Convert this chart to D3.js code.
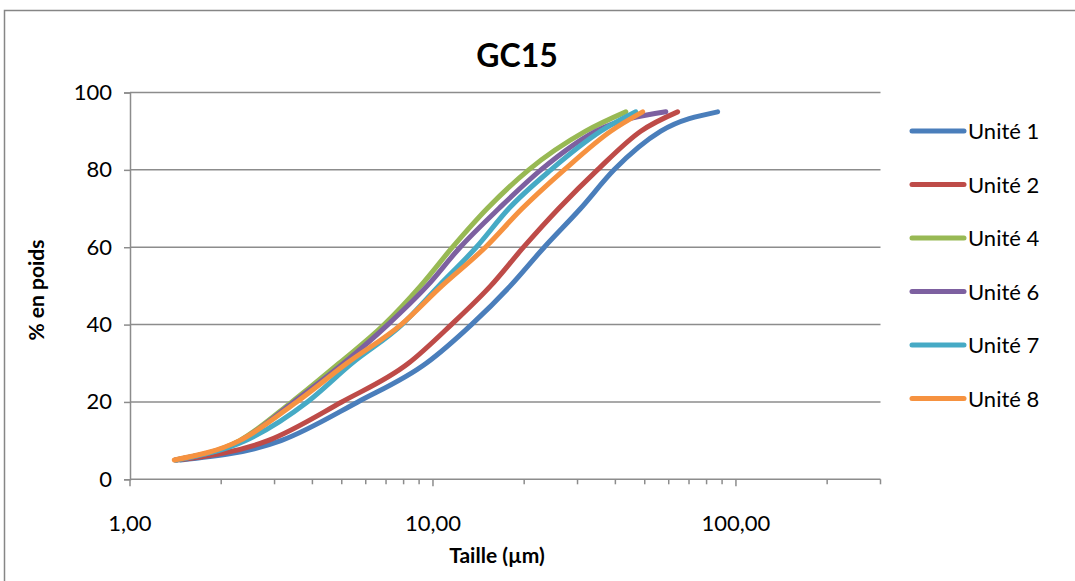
<!DOCTYPE html>
<html><head><meta charset="utf-8">
<script src="https://cdn.jsdelivr.net/npm/d3@7"></script>
<style>body{margin:0;background:#fff}svg{display:block}text{font-family:Lato,"Open Sans",sans-serif;fill:#000}</style>
</head><body>
<script>
const percents = [5,10,20,30,40,50,60,70,80,90,95];
const seriesNames = ["Unité 1","Unité 2","Unité 4","Unité 6","Unité 7","Unité 8"];
const unite1 = [1.47, 3.15, 5.65, 9.5, 13.4, 18.0, 23.3, 30.7, 39.6, 56.5, 87.0];
const unite2 = [1.43, 2.85, 5.0, 8.3, 11.5, 15.5, 19.9, 26.0, 34.9, 48.5, 64.2];
const unite4 = [1.41, 2.3, 3.42, 4.9, 6.9, 9.1, 11.6, 15.1, 20.7, 31.9, 43.3];
const unite6 = [1.41, 2.32, 3.47, 5.07, 7.1, 9.57, 12.3, 16.5, 22.7, 34.5, 58.7];
const unite7 = [1.42, 2.4, 3.85, 5.4, 7.9, 10.45, 13.9, 17.8, 24.5, 35.8, 46.7];
const unite8 = [1.40, 2.3, 3.55, 5.2, 7.85, 10.7, 14.9, 19.7, 27.1, 38.6, 49.2];
const colors = ["#4A7EBB","#BE4B48","#98B954","#7D60A0","#46AAC5","#F69240"];
const xMajorTicks = [1, 10, 100];
const xMajorLabels = ["1,00","10,00","100,00"];
const yTicks = [0,20,40,60,80,100];

const allSeries = [unite1,unite2,unite4,unite6,unite7,unite8];
const W = 1075, H = 581;
const svg = d3.select("body").append("svg").attr("width",W).attr("height",H);

svg.append("rect").attr("x",4.5).attr("y",10.5).attr("width",1100).attr("height",600)
  .attr("fill","#fff").attr("stroke","#868686").attr("stroke-width",1.5);

const x = d3.scaleLog().domain([1,300]).range([130,880.5]);
const y = d3.scaleLinear().domain([0,100]).range([479.3,92.5]);

// gridlines
svg.append("g").selectAll("line").data(yTicks.filter(d=>d>0)).join("line")
  .attr("x1",130).attr("x2",880.5).attr("y1",d=>y(d)).attr("y2",d=>y(d))
  .attr("stroke","#8c8c8c").attr("stroke-width",1.5);

// y axis
const yAxis = svg.append("g").attr("transform","translate(130,0)")
  .call(d3.axisLeft(y).tickValues(yTicks).tickSize(6).tickPadding(12).tickFormat(d3.format("d")));
yAxis.select(".domain").attr("stroke","#8c8c8c").attr("stroke-width",1.5);
yAxis.selectAll(".tick line").attr("stroke","#8c8c8c").attr("stroke-width",1.5);
yAxis.selectAll("text").style("font-size","22px").style("font-family","Lato");

// x axis
const minor = [];
[1,10,100].forEach(dec=>{for(let k=2;k<=9;k++){const v=k*dec; if(v<=300) minor.push(v);}});
const xAxis = svg.append("g").attr("transform","translate(0,479.3)");
xAxis.append("line").attr("x1",130).attr("x2",880.5).attr("stroke","#8c8c8c").attr("stroke-width",1.5);
xAxis.selectAll("line.minor").data(minor).join("line").attr("class","minor")
  .attr("x1",d=>x(d)).attr("x2",d=>x(d)).attr("y1",0).attr("y2",5)
  .attr("stroke","#8c8c8c").attr("stroke-width",1.5);
xAxis.selectAll("line.major").data(xMajorTicks).join("line").attr("class","major")
  .attr("x1",d=>x(d)).attr("x2",d=>x(d)).attr("y1",0).attr("y2",7)
  .attr("stroke","#8c8c8c").attr("stroke-width",1.5);
xAxis.selectAll("text").data(xMajorTicks).join("text")
  .attr("x",d=>x(d)).attr("y",52).attr("text-anchor","middle")
  .style("font-size","22px").text((d,i)=>xMajorLabels[i]);

// lines
const line = d3.line().x(d=>x(d[0])).y(d=>y(d[1])).curve(d3.curveMonotoneX);
allSeries.forEach((s,i)=>{
  const pts = s.map((v,j)=>[v,percents[j]]);
  svg.append("path").datum(pts).attr("d",line).attr("fill","none")
    .attr("stroke",colors[i]).attr("stroke-width",5).attr("stroke-linecap","round").attr("stroke-linejoin","round");
});

// title
svg.append("text").attr("x",517).attr("y",67).attr("text-anchor","middle")
  .style("font-size","32px").style("font-weight","bold").text("GC15");
svg.append("text").attr("x",497).attr("y",563).attr("text-anchor","middle")
  .style("font-size","21px").style("font-weight","bold").text("Taille (µm)");
svg.append("text").attr("transform","translate(44,290) rotate(-90)").attr("text-anchor","middle")
  .style("font-size","21px").style("font-weight","bold").text("% en poids");

// legend
const leg = svg.append("g");
seriesNames.forEach((n,i)=>{
  const yy = 131 + i*53.5;
  leg.append("line").attr("x1",912).attr("x2",964).attr("y1",yy).attr("y2",yy)
    .attr("stroke",colors[i]).attr("stroke-width",5).attr("stroke-linecap","round");
  leg.append("text").attr("x",968).attr("y",yy+8).style("font-size","22px").text(n);
});
</script>
</body></html>
